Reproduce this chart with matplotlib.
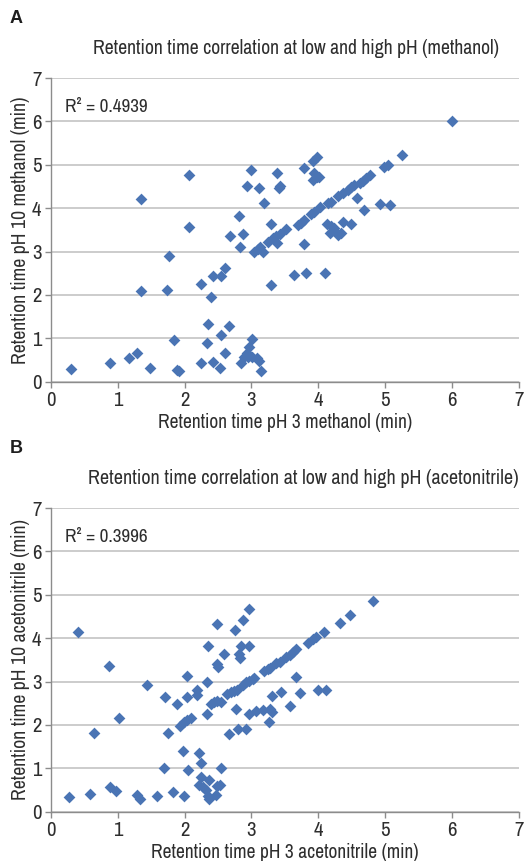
import matplotlib
matplotlib.use("Agg")
import matplotlib.pyplot as plt
from matplotlib import font_manager

cond = None
for f in font_manager.fontManager.ttflist:
    if ("Narrow" in f.name or "Condensed" in f.name) and f.weight in (400, "normal", "regular"):
        cond = f.name
        break
if cond:
    FAM = [cond, "DejaVu Sans"]
    SC = 1.15
else:
    FAM = ["Liberation Sans", "DejaVu Sans"]
    SC = 1.0
plt.rcParams["font.family"] = FAM

# Panel A: methanol
meth_x = [6.0, 5.25, 5.04, 4.98, 4.78, 1.34, 2.07, 3.0, 2.94, 3.11, 3.19, 3.38, 3.43, 3.41,
          3.79, 3.92, 3.98, 3.94, 3.98, 3.92, 4.01, 4.93, 5.07, 4.58, 4.68,
          4.03, 4.14, 4.19, 4.29, 4.37, 4.44, 4.49, 4.54, 4.62, 4.67, 4.72,
          2.81, 2.07, 2.68, 2.88, 3.29, 2.83, 1.76, 3.04, 3.1, 3.13, 3.17,
          3.24, 3.32, 3.37, 3.42, 3.38, 3.52, 3.69, 3.74, 3.78, 3.89, 3.93,
          3.78, 3.63, 3.82, 4.1, 3.29, 4.13, 4.19, 4.17, 4.24, 4.29, 4.34, 4.37, 4.49,
          1.34, 1.73, 2.24, 2.43, 2.54, 2.6, 2.39, 2.35, 2.67, 2.34, 2.54, 1.84, 2.6,
          3.01, 2.97, 2.93, 2.89, 2.85, 2.95, 3.01, 3.09, 3.12, 3.14, 2.53, 2.43, 2.24,
          1.89, 1.91, 1.48, 1.17, 1.28, 0.89, 0.3]
meth_y = [6.0, 5.23, 5.0, 4.96, 4.77, 4.21, 4.77, 4.87, 4.52, 4.46, 4.13, 4.82, 4.52, 4.47,
          4.92, 5.08, 5.19, 4.81, 4.73, 4.65, 4.72, 4.1, 4.07, 4.23, 3.96,
          4.02, 4.12, 4.15, 4.27, 4.35, 4.42, 4.48, 4.54, 4.58, 4.62, 4.69,
          3.81, 3.56, 3.36, 3.4, 3.64, 3.1, 2.9, 3.0, 3.05, 3.1, 2.98,
          3.23, 3.31, 3.35, 3.4, 3.19, 3.52, 3.62, 3.67, 3.73, 3.87, 3.91,
          3.17, 2.46, 2.5, 2.5, 2.23, 3.64, 3.58, 3.42, 3.54, 3.38, 3.42, 3.69, 3.64,
          2.1, 2.12, 2.25, 2.44, 2.44, 2.63, 1.96, 1.33, 1.28, 0.9, 1.08, 0.95, 0.65,
          0.98, 0.81, 0.67, 0.58, 0.42, 0.56, 0.58, 0.54, 0.48, 0.25, 0.31, 0.46, 0.42,
          0.27, 0.25, 0.32, 0.54, 0.67, 0.42, 0.29]

# Panel B: acetonitrile
acn_x = [0.4, 2.49, 2.75, 2.88, 2.97, 2.35, 2.84, 2.97, 4.82, 4.48, 4.33, 4.09, 3.96, 3.92, 3.84, 3.67,
         2.82, 2.83, 2.59, 2.48, 2.5, 0.87, 2.04, 2.34, 1.43, 2.19, 2.19, 2.03, 1.71, 1.88,
         2.39, 2.44, 2.49, 2.54, 2.34, 1.93, 1.99, 2.04, 2.09, 1.02, 0.64, 1.75, 2.66,
         2.77, 2.8, 2.92, 2.97, 3.07, 3.18, 3.28, 3.3, 3.26, 3.3, 3.44, 3.57, 3.67, 3.73, 3.99, 4.12,
         2.64, 2.69, 2.74, 2.78, 2.87, 2.92, 2.97, 3.02, 3.04, 3.19, 3.24, 3.27,
         3.37, 3.42, 3.52, 3.57, 3.62,
         0.27, 0.58, 0.89, 0.98, 1.29, 1.33, 1.59, 1.83, 1.99, 1.69, 1.98, 2.05, 2.21, 2.25,
         2.25, 2.22, 2.27, 2.32, 2.37, 2.35, 2.36, 2.54, 2.48, 2.53, 2.47]
acn_y = [4.15, 4.33, 4.19, 4.42, 4.67, 3.83, 3.83, 3.83, 4.85, 4.53, 4.35, 4.14, 4.02, 3.97, 3.9, 3.75,
         3.64, 3.55, 3.64, 3.4, 3.34, 3.36, 3.13, 3.0, 2.92, 2.8, 2.69, 2.65, 2.65, 2.48,
         2.48, 2.52, 2.56, 2.52, 2.26, 1.98, 2.06, 2.11, 2.15, 2.16, 1.81, 1.81, 1.8,
         2.36, 1.9, 1.9, 2.25, 2.33, 2.34, 2.36, 2.29, 2.06, 2.67, 2.75, 2.43, 3.11, 2.73, 2.8, 2.81,
         2.71, 2.75, 2.78, 2.8, 2.92, 2.98, 3.02, 3.05, 3.09, 3.25, 3.29, 3.31,
         3.42, 3.46, 3.57, 3.61, 3.67,
         0.33, 0.41, 0.56, 0.48, 0.38, 0.29, 0.35, 0.45, 0.35, 1.0, 1.39, 0.96, 1.35, 1.12,
         0.81, 0.62, 0.56, 0.5, 0.73, 0.37, 0.29, 1.01, 0.6, 0.62, 0.39]

panels = [
    ("A", "Retention time correlation at low and high pH (methanol)",
     "Retention time pH 3 methanol (min)", "Retention time pH 10 methanol (min)",
     "R\u00b2 = 0.4939", meth_x, meth_y, 0.5567, 0.5246, 12.35),
    ("B", "Retention time correlation at low and high pH (acetonitrile)",
     "Retention time pH 3 acetonitrile (min)", "Retention time pH 10 acetonitrile (min)",
     "R\u00b2 = 0.3996", acn_x, acn_y, 0.0573, 0.5395, 12.6),
]
ticks = [0, 1, 2, 3, 4, 5, 6, 7]

fig = plt.figure(figsize=(5.31, 8.61), dpi=100)
color = "#4a74b4"
grid_c = "#c3c3c3"
spine_c = "#8c8c8c"
txt_c = "#2e2e2e"
for letter, title, xl, yl, r2, xs, ys, bottom, tx, tfs in panels:
    ax = fig.add_axes([0.096, bottom, 0.881, 0.3526])
    ax.scatter(xs, ys, marker="D", s=36, color=color, linewidths=0, zorder=3)
    ax.set_xlim(0, 7)
    ax.set_ylim(0, 7)
    ax.set_xticks(ticks)
    ax.set_yticks(ticks)
    ax.yaxis.grid(True, color=grid_c, linewidth=1.2)
    ax.set_axisbelow(True)
    for s in ["top", "right"]:
        ax.spines[s].set_visible(False)
    for s in ["left", "bottom"]:
        ax.spines[s].set_color(spine_c)
        ax.spines[s].set_linewidth(1.0)
    ax.tick_params(axis="both", colors=spine_c, length=4, width=1.0,
                   labelsize=13 * SC, labelcolor=txt_c, pad=3)
    ax.set_xlabel(xl, fontsize=12.2 * SC, color=txt_c, va="top")
    ax.xaxis.set_label_coords(0.5, -0.102)
    ax.set_ylabel(yl, fontsize=12.4 * SC, color=txt_c)
    ax.yaxis.set_label_coords(-0.045, 0.5)
    ax.set_title(title, fontsize=tfs * SC, color=txt_c, pad=17, x=tx)
    ax.text(0.03, 0.905, r2, transform=ax.transAxes, fontsize=12.0 * SC,
            color=txt_c, va="center", ha="left")
    top_px = (1 - bottom - 0.3526) * 861
    fig.text(10 / 531, 1 - (top_px - 60) / 861, letter, fontsize=13,
             family=["Liberation Sans", "DejaVu Sans"],
             fontweight="bold", color="#1e1e1e", va="center", ha="left")

fig.savefig("out.png", dpi=100)
